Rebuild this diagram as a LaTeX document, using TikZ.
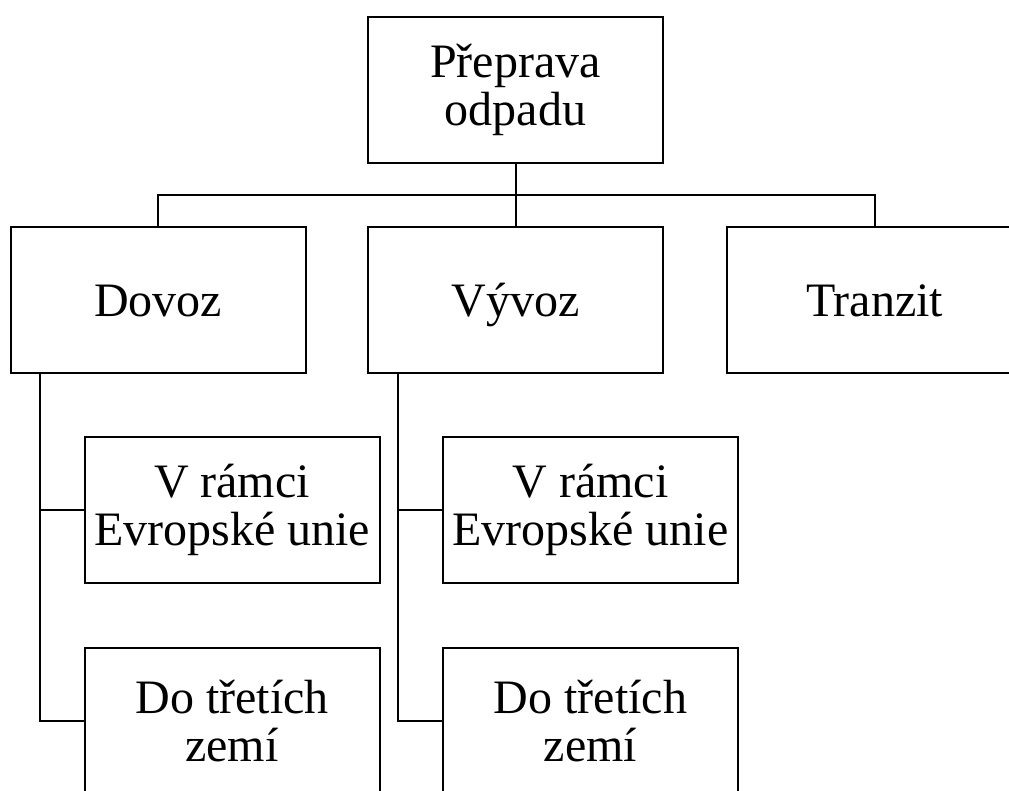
\documentclass[tikz,border=0pt]{standalone}
\usepackage{fontspec}
\setmainfont{Liberation Serif}
\begin{document}
\begin{tikzpicture}[x=1pt,y=-1pt,
  box/.style={draw=black,line width=2pt,minimum width=295pt,minimum height=146pt,
    align=center,inner sep=0pt,font=\fontsize{48}{48}\selectfont},
  onebox/.style={box,text height=32pt,text depth=0pt},
  link/.style={draw=black,line width=2pt}]
\useasboundingbox (0,0) rectangle (1009,790);
\clip (0,0) rectangle (1009,790);
\node[box] (top) at (515.5,89.5) {Přeprava\\odpadu};
\node[onebox] (dovoz) at (158,300) {Dovoz};
\node[onebox] (vyvoz) at (515.5,300) {Vývoz};
\node[onebox] (tranzit) at (874.5,300) {Tranzit};
\node[box] (eu1) at (232,510) {V rámci\\Evropské unie};
\node[box] (tz1) at (232,721) {Do třetích\\zemí};
\node[box] (eu2) at (590.5,510) {V rámci\\Evropské unie};
\node[box] (tz2) at (590.5,721) {Do třetích\\zemí};
\coordinate (bus) at (515.5,195);
\coordinate (d1) at (40,374);
\coordinate (d2) at (397.5,374);
\path[link] (top.south) -- (bus);
\path[link] (dovoz.north) |- (bus) -| (tranzit.north);
\path[link] (bus) -- (vyvoz.north);
\path[link] (d1) |- (eu1.west);
\path[link] (d1) |- (tz1.west);
\path[link] (d2) |- (eu2.west);
\path[link] (d2) |- (tz2.west);
\end{tikzpicture}
\end{document}
